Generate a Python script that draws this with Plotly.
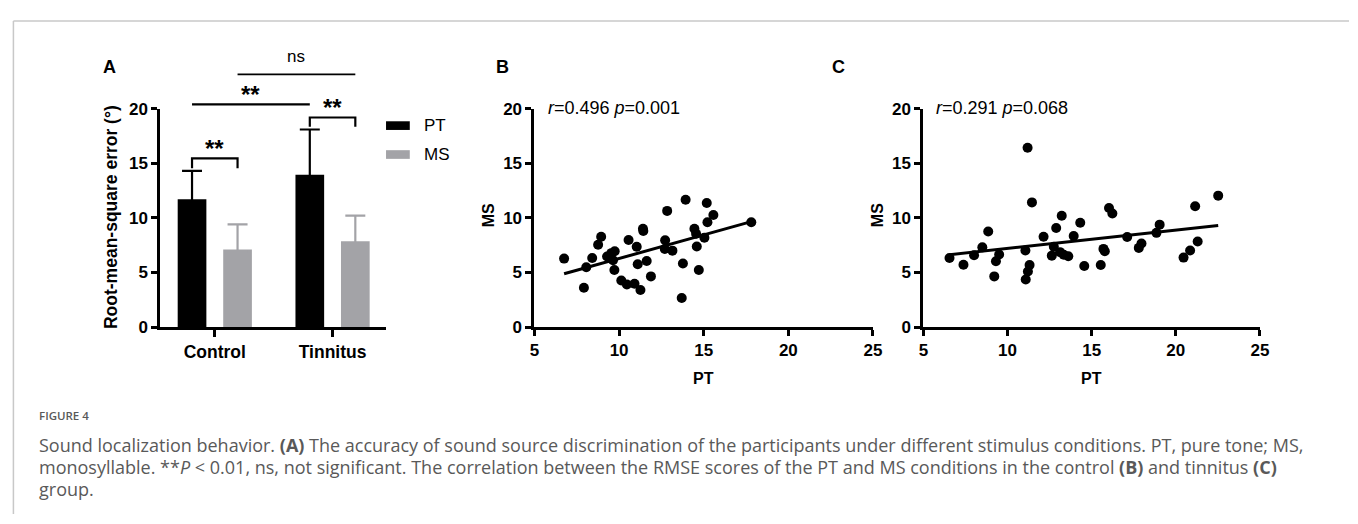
import numpy as np
import plotly.graph_objects as go

# ---------------- data ----------------
group_labels = ["Control", "Tinnitus"]
pt_mean = [11.7, 13.95]
pt_sd = [2.6, 4.15]
ms_mean = [7.1, 7.85]
ms_sd = [2.3, 2.35]

ctrl_pt = [6.75, 7.92, 8.06, 8.41, 8.76, 8.94, 9.29, 9.54, 9.74, 9.64, 9.72, 10.13, 10.46,
           10.91, 11.26, 10.56, 11.04, 11.10, 11.41, 11.43, 11.63, 11.88, 12.84, 12.72, 12.70,
           13.15, 13.77, 13.70, 13.93, 14.45, 14.55, 14.59, 14.71, 15.04, 15.22, 15.18, 15.57, 17.81]
ctrl_ms = [6.27, 3.60, 5.47, 6.32, 7.54, 8.27, 6.47, 6.77, 6.94, 6.12, 5.23, 4.26, 3.90,
           3.96, 3.40, 7.98, 7.36, 5.76, 9.01, 8.80, 6.05, 4.64, 10.64, 7.95, 7.15,
           7.00, 5.82, 2.66, 11.67, 9.01, 8.54, 7.38, 5.23, 8.19, 9.60, 11.37, 10.26, 9.60]

tin_pt = [6.55, 7.38, 8.01, 8.50, 8.85, 9.50, 9.31, 9.21, 11.06, 11.31, 11.21, 11.08, 11.19,
          11.45, 12.14, 12.63, 12.75, 12.89, 13.22, 13.12, 13.34, 13.61, 13.93, 14.32, 14.56,
          15.54, 15.70, 15.78, 16.03, 16.23, 17.11, 17.80, 17.96, 18.85, 19.04, 20.46, 20.85,
          21.30, 21.15, 22.52]
tin_ms = [6.33, 5.71, 6.57, 7.30, 8.76, 6.65, 6.03, 4.64, 7.01, 5.68, 5.09, 4.35, 16.42,
          11.42, 8.28, 6.54, 7.36, 9.08, 10.20, 6.86, 6.63, 6.48, 8.34, 9.56, 5.59,
          5.68, 7.16, 6.95, 10.91, 10.41, 8.25, 7.25, 7.66, 8.63, 9.38, 6.36, 7.01,
          7.84, 11.06, 12.04]

fit_B = (0.432, 1.96)   # slope, intercept
fit_C = (0.168, 5.53)
stats_B = "<i>r</i>=0.496 <i>p</i>=0.001"
stats_C = "<i>r</i>=0.291 <i>p</i>=0.068"

# significance annotations (y-levels in data units of panel A)
sig_ctrl = dict(y=15.45, leg=14.55, label="**")
sig_tin = dict(y=19.2, leg=18.35, label="**")
sig_long = dict(y=20.4, label="**")
sig_ns = dict(y=23.15, label="ns")

# ---------------- geometry ----------------
W, H = 1358, 524
FONT = "Liberation Sans, Arial, sans-serif"
GRAY = "#a3a3a7"


def fx(px):
    return px / W


def fy(py):
    return 1 - py / H


y_bot, y_top20 = 330, 103.5
unit = (y_bot - y_top20) / 20.0
dom_y = [fy(y_bot), fy(y_top20)]
dom_y_ext = [fy(y_bot), fy(y_bot - 26 * unit)]
domA = [fx(157), fx(385)]
domB = [fx(535), fx(877)]
domC = [fx(928), fx(1268)]
xrangeA = [-0.462, 1.454]
bargap = 0.227
bargroupgap = 0.37
hidden_shoe = 0.15  # lower error-bar end kept inside the bar

gx = np.arange(len(group_labels))
half = (1 - bargap) / 4.0
c_pt = gx - half
c_ms = gx + half

fig = go.Figure()

fig.add_trace(go.Bar(
    x=gx, y=pt_mean, name="PT", marker_color="black", marker_line_width=0,
    error_y=dict(type="data", array=pt_sd, arrayminus=[hidden_shoe] * len(pt_sd),
                 symmetric=False, color="black", thickness=2.2, width=10),
    xaxis="x", yaxis="y", showlegend=False))
fig.add_trace(go.Bar(
    x=gx, y=ms_mean, name="MS", marker_color=GRAY, marker_line_width=0,
    error_y=dict(type="data", array=ms_sd, arrayminus=[hidden_shoe] * len(ms_sd),
                 symmetric=False, color=GRAY, thickness=2.2, width=10),
    xaxis="x", yaxis="y", showlegend=False))

# scatter B
fig.add_trace(go.Scatter(x=ctrl_pt, y=ctrl_ms, mode="markers",
                         marker=dict(color="black", size=10), xaxis="x2", yaxis="y2",
                         showlegend=False))
xb = np.array([min(ctrl_pt), max(ctrl_pt)])
fig.add_trace(go.Scatter(x=xb, y=fit_B[0] * xb + fit_B[1], mode="lines",
                         line=dict(color="black", width=3), xaxis="x2", yaxis="y2",
                         showlegend=False))
# scatter C
fig.add_trace(go.Scatter(x=tin_pt, y=tin_ms, mode="markers",
                         marker=dict(color="black", size=10), xaxis="x3", yaxis="y3",
                         showlegend=False))
xc = np.array([min(tin_pt), max(tin_pt)])
fig.add_trace(go.Scatter(x=xc, y=fit_C[0] * xc + fit_C[1], mode="lines",
                         line=dict(color="black", width=3), xaxis="x3", yaxis="y3",
                         showlegend=False))
# overlay subplot for significance marks
fig.add_trace(go.Scatter(x=[None], y=[None], xaxis="x4", yaxis="y4", showlegend=False,
                         hoverinfo="skip"))

axis_common = dict(showline=True, linewidth=3, linecolor="black", ticks="outside",
                   ticklen=6, tickwidth=3, tickcolor="black", showgrid=False, zeroline=False,
                   tickfont=dict(family=FONT, size=17, color="black", weight="bold"))

fig.update_layout(
    width=W, height=H, margin=dict(l=0, r=0, t=0, b=0),
    paper_bgcolor="white", plot_bgcolor="rgba(0,0,0,0)",
    barmode="group", bargap=bargap, bargroupgap=bargroupgap,
    font=dict(family=FONT, color="black"),
    xaxis=dict(domain=domA, range=xrangeA, anchor="y", tickvals=list(gx),
               ticktext=group_labels, **{**axis_common, "ticklen": 7,
                                          "tickfont": dict(family=FONT, size=17.5, color="black",
                                                           weight="bold")}),
    yaxis=dict(domain=dom_y, range=[0, 20], anchor="x", tickvals=[0, 5, 10, 15, 20],
               **axis_common),
    xaxis2=dict(domain=domB, range=[5, 25], anchor="y2", tickvals=[5, 10, 15, 20, 25],
                **axis_common),
    yaxis2=dict(domain=dom_y, range=[0, 20], anchor="x2", tickvals=[0, 5, 10, 15, 20],
                **axis_common),
    xaxis3=dict(domain=domC, range=[5, 25], anchor="y3", tickvals=[5, 10, 15, 20, 25],
                **axis_common),
    yaxis3=dict(domain=dom_y, range=[0, 20], anchor="x3", tickvals=[0, 5, 10, 15, 20],
                **axis_common),
    xaxis4=dict(domain=domA, range=xrangeA, anchor="y4", visible=False),
    yaxis4=dict(domain=dom_y_ext, range=[0, 26], anchor="x4", visible=False),
)

shapes = []
ann = []
line_k = dict(color="black", width=2.2)
CC = dict(xanchor="center", yanchor="middle", showarrow=False)

# control bracket
shapes.append(dict(type="path", xref="x4", yref="y4", line=line_k,
                   path=f"M {c_pt[0]},{sig_ctrl['leg']} L {c_pt[0]},{sig_ctrl['y']} "
                        f"L {c_ms[0]},{sig_ctrl['y']} L {c_ms[0]},{sig_ctrl['leg']}"))
ann.append(dict(xref="x4", yref="y4", x=(c_pt[0] + c_ms[0]) / 2, y=sig_ctrl["y"] + 0.95,
                text=f"<b>{sig_ctrl['label']}</b>", font=dict(size=24, family=FONT, color="black"),
                **CC))
# tinnitus bracket
shapes.append(dict(type="path", xref="x4", yref="y4", line=line_k,
                   path=f"M {c_pt[1]},{sig_tin['leg']} L {c_pt[1]},{sig_tin['y']} "
                        f"L {c_ms[1]},{sig_tin['y']} L {c_ms[1]},{sig_tin['leg']}"))
ann.append(dict(xref="x4", yref="y4", x=(c_pt[1] + c_ms[1]) / 2, y=sig_tin["y"] + 0.95,
                text=f"<b>{sig_tin['label']}</b>", font=dict(size=24, family=FONT, color="black"),
                **CC))
# long line PT vs PT
shapes.append(dict(type="line", xref="x4", yref="y4", line=line_k,
                   x0=c_pt[0], x1=c_pt[1], y0=sig_long["y"], y1=sig_long["y"]))
ann.append(dict(xref="x4", yref="y4", x=(c_pt[0] + c_pt[1]) / 2, y=sig_long["y"] + 0.95,
                text=f"<b>{sig_long['label']}</b>", font=dict(size=24, family=FONT, color="black"),
                **CC))
# ns line MS vs MS
shapes.append(dict(type="line", xref="x4", yref="y4", line=dict(color="black", width=1.6),
                   x0=c_ms[0], x1=c_ms[1], y0=sig_ns["y"], y1=sig_ns["y"]))
ann.append(dict(xref="x4", yref="y4", x=(c_ms[0] + c_ms[1]) / 2, y=sig_ns["y"] + 1.6,
                text=sig_ns["label"], font=dict(size=17, family=FONT, color="black"), **CC))

# legend (custom swatches)
for name, col, yc in [("PT", "black", 121), ("MS", GRAY, 151)]:
    shapes.append(dict(type="rect", xref="paper", yref="paper", line=dict(width=0),
                       fillcolor=col, x0=fx(385), x1=fx(409), y0=fy(yc + 4.5), y1=fy(yc - 4.5)))
    ann.append(dict(xref="paper", yref="paper", x=fx(421), y=fy(yc), xanchor="left",
                    yanchor="middle", text=name, showarrow=False,
                    font=dict(size=17, family=FONT, color="black")))

# axis titles
ann.append(dict(xref="paper", yref="paper", x=fx(107), y=fy(216),
                text="<b>Root-mean-square error (°)</b>", textangle=-90,
                font=dict(size=17.5, family=FONT, color="black"), **CC))
for xc_px, yc_px in [(488, 214), (881, 214)]:
    ann.append(dict(xref="paper", yref="paper", x=fx(xc_px), y=fy(yc_px), text="<b>MS</b>",
                    textangle=-90, font=dict(size=16, family=FONT, color="black"), **CC))
for xc_px in [706, 1098]:
    ann.append(dict(xref="paper", yref="paper", x=fx(xc_px), y=fy(383), text="<b>PT</b>",
                    font=dict(size=16, family=FONT, color="black"), **CC))

# stats text
for txt, xl in [(stats_B, 547), (stats_C, 939)]:
    ann.append(dict(xref="paper", yref="paper", x=fx(xl), y=fy(103), xanchor="left",
                    yanchor="middle", text=txt, showarrow=False,
                    font=dict(size=18, family=FONT, color="black")))

# panel letters
for lab, xp in [("A", 106), ("B", 503), ("C", 842)]:
    ann.append(dict(xref="paper", yref="paper", x=fx(xp), y=fy(60), text=f"<b>{lab}</b>",
                    font=dict(size=18, family=FONT, color="black"), **CC))

# frame
shapes.append(dict(type="line", xref="paper", yref="paper", x0=fx(8.5), x1=fx(8.5),
                   y0=0, y1=fy(12.5), line=dict(color="#c8c8c8", width=1.5)))
shapes.append(dict(type="line", xref="paper", yref="paper", x0=fx(8.5), x1=1,
                   y0=fy(12.5), y1=fy(12.5), line=dict(color="#c8c8c8", width=1.5)))

# caption
CAP = "Open Sans, Noto Sans, sans-serif"
CAPC = "#595959"
ann.append(dict(xref="paper", yref="paper", x=fx(32), y=fy(422), xanchor="left", yanchor="middle",
                text="FIGURE 4", showarrow=False,
                font=dict(size=11.5, family=CAP, color=CAPC, weight=600)))
cap_lines = [
    "Sound localization behavior. <b>(A)</b> The accuracy of sound source discrimination of the "
    "participants under different stimulus conditions. PT, pure tone; MS,",
    "monosyllable. **<i>P</i> &lt; 0.01, ns, not significant. The correlation between the RMSE scores "
    "of the PT and MS conditions in the control <b>(B)</b> and tinnitus <b>(C)</b>",
    "group.",
]
for i, t in enumerate(cap_lines):
    ann.append(dict(xref="paper", yref="paper", x=fx(32), y=fy(452 + 23 * i), xanchor="left",
                    yanchor="middle", text=t, showarrow=False,
                    font=dict(size=18, family=CAP, color=CAPC)))

fig.update_layout(shapes=shapes, annotations=ann)
fig.write_html("out.html", config={"displayModeBar": False},
               post_script="document.body.style.margin='0';document.body.style.overflow='hidden';")
